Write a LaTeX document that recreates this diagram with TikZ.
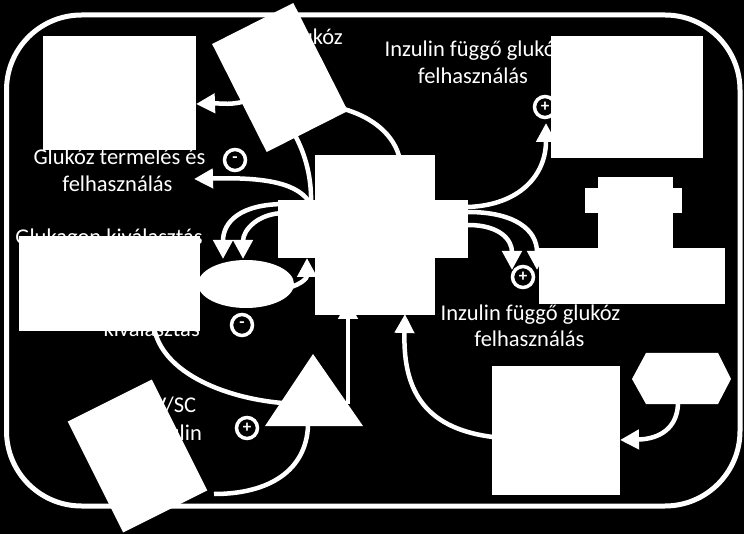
\documentclass[tikz,border=0pt]{standalone}
\usepackage{fontspec}
\setmainfont{Carlito}
\usetikzlibrary{arrows.meta,shapes.geometric}
\pgfdeclarelayer{back}
\pgfdeclarelayer{bg}
\pgfsetlayers{back,bg,main}
\begin{document}
\begin{tikzpicture}[x=1pt,y=-1pt,
  wbox/.style={fill=white,draw=none,inner sep=0pt,outer sep=0pt},
  txt/.style={text=white,inner sep=0pt,font=\fontsize{22.5}{27}\selectfont},
  conn/.style={draw=white,line width=4.5pt},
  arr/.style={conn,-{Triangle[length=19pt,width=19pt]}},
  sign/.style={circle,draw=white,line width=3.5pt,fill=black,minimum size=21pt,inner sep=0pt,text=white,font=\fontsize{17}{17}\selectfont\bfseries}
]
\useasboundingbox (0,0) rectangle (744,534);
\begin{pgfonlayer}{back}
\fill[black] (0,0) rectangle (744,534);
\end{pgfonlayer}

% ---------- white shapes (main layer, on top) ----------
\node[wbox,minimum width=153pt,minimum height=114pt] (tl) at (119.5,93) {};
\node[wbox,minimum width=152pt,minimum height=122pt] (tr) at (627,97) {};
\node[wbox,minimum width=91pt,minimum height=121pt,rotate=26.8] (rt) at (280,77.5) {};
\node[wbox,minimum width=120pt,minimum height=160pt] (blk) at (375,235) {};
\node[wbox,minimum width=190pt,minimum height=58pt] (blkw) at (373,229) {};
\node[wbox,ellipse,minimum width=96pt,minimum height=48pt] (ell) at (246,284) {};
\node[wbox,minimum width=181pt,minimum height=95pt] (glk) at (109.5,283.5) {};
\node[wbox,minimum width=75pt,minimum height=73pt] (capstem) at (635.5,213.5) {};
\node[wbox,minimum width=97pt,minimum height=25pt] (capband) at (633.5,200.5) {};
\node[wbox,minimum width=186pt,minimum height=56pt] (rbig) at (632,276) {};
\node[wbox,minimum width=128pt,minimum height=129pt] (br) at (556,430.5) {};
\node[wbox,minimum width=94pt,minimum height=124pt,rotate=26.6] (rb) at (137.5,456) {};
\coordinate (triA) at (313,354);
\coordinate (triR) at (363,426);
\coordinate (triL) at (265,426);
\fill[white] (triA) -- (triR) -- (triL) -- cycle;
\coordinate (hxL) at (632,379);
\coordinate (hxTL) at (646,353);
\coordinate (hxTR) at (718,353);
\coordinate (hxR) at (731,379);
\coordinate (hxBR) at (718,404);
\coordinate (hxBL) at (646,404);
\fill[white] (hxL) -- (hxTL) -- (hxTR) -- (hxR) -- (hxBR) -- (hxBL) -- cycle;

\begin{pgfonlayer}{bg}
% frame
\draw[white,line width=5pt,rounded corners=75pt] (6.5,15) rectangle (740,506);

% texts
\node[txt,anchor=base east] (tglu) at (343,45) {Glukóz};
\node[txt,anchor=base] (tinz1a) at (474.5,57) {Inzulin függő glukóz};
\node[txt,anchor=base] (tinz1b) at (473,84) {felhasználás};
\node[txt,anchor=base] (tterm1) at (119.5,165) {Glukóz termelés és};
\node[txt,anchor=base] (tterm2) at (117.5,192) {felhasználás};
\node[txt,anchor=base] (tglk) at (109,245) {Glukagon kiválasztás};
\node[txt,anchor=base east] (tkiv) at (200,337) {kiválasztás};
\node[txt,anchor=base] (tiv1) at (172,412) {IV/SC};
\node[txt,anchor=base] (tiv2) at (172,440) {inzulin};
\node[txt,anchor=base] (tinz2a) at (530.5,321) {Inzulin függő glukóz};
\node[txt,anchor=base] (tinz2b) at (529.5,347) {felhasználás};

% connector end points
\coordinate (c1e) at (196,104);
\coordinate (c2s) at (340,108);
\coordinate (c2e) at (400,160);
\coordinate (c3s) at (292,130);
\coordinate (bcorner) at (311,205);
\coordinate (c4e) at (194,179);
\coordinate (bl1) at (285,204);
\coordinate (bl2) at (285,213);
\coordinate (e1) at (223,259);
\coordinate (e2) at (243,259);
\coordinate (c7s) at (288,288);
\coordinate (c7e) at (307,258);
\coordinate (br0) at (468,207);
\coordinate (br1) at (468,212);
\coordinate (br2) at (468,225);
\coordinate (c8e) at (546,123);
\coordinate (r1) at (537,270);
\coordinate (r2) at (512,270);
\coordinate (c11s) at (348,404);
\coordinate (c11e) at (348,300);
\coordinate (c12s) at (153,320);
\coordinate (c12e) at (282,403);
\coordinate (c13s) at (308,426);
\coordinate (c13e) at (214,494);
\coordinate (c14s) at (678,404);
\coordinate (c14e) at (620,440);
\coordinate (c15s) at (493,437);
\coordinate (c15e) at (405,314);

% connectors
\draw[arr] (rt.center) .. controls (250,110) and (225,103) .. (c1e);
\draw[conn] (c2s) .. controls (372,116) and (395,135) .. (c2e);
\draw[conn] (c3s) .. controls (304,150) and (312,175) .. (bcorner);
\draw[arr] (bcorner) .. controls (300,183) and (265,177) .. (c4e);
\draw[arr] (bl1) .. controls (240,204) and (223,222) .. (e1);
\draw[arr] (bl2) .. controls (258,213) and (243,230) .. (e2);
\draw[arr] (c7s) .. controls (302,284) and (307,278) .. (c7e);
\draw[arr] (br0) .. controls (520,205) and (546,175) .. (c8e);
\draw[arr] (br1) .. controls (515,212) and (537,230) .. (r1);
\draw[arr] (br2) .. controls (500,225) and (512,240) .. (r2);
\draw[arr] (c11s) -- (c11e);
\draw[conn] (c12s) .. controls (156,372) and (225,398) .. (c12e);
\draw[conn] (c13s) .. controls (306,470) and (270,494) .. (c13e);
\draw[arr] (c14s) .. controls (677,428) and (660,439) .. (c14e);
\draw[arr] (c15s) .. controls (420,428) and (403,385) .. (c15e);

% sign circles
\node[sign] (m1) at (235,160) {-};
\node[sign] (m2) at (242,325) {-};
\node[sign] (p1) at (247,428) {+};
\node[sign] (p2) at (523,277) {+};
\node[sign] (p3) at (545,107) {+};
\end{pgfonlayer}
\end{tikzpicture}
\end{document}
